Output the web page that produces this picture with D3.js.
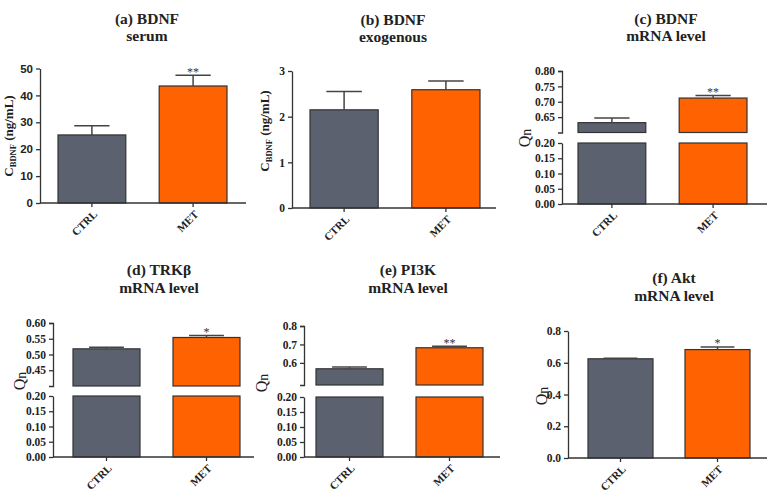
<!DOCTYPE html>
<html><head><meta charset="utf-8">
<script src="https://cdn.jsdelivr.net/npm/d3@7"></script>
<style>body{margin:0;background:#fff}</style></head>
<body>
<svg id="chart" width="773" height="501"></svg>
<script>
// ---------- data ----------
const categories = ["CTRL", "MET"];

const titleA = ["(a) BDNF", "serum"];
const meanA = [25.3, 43.5];
const semA = [3.4, 4.0];
const starsA = ["", "**"];
const ticksA = [0, 10, 20, 30, 40, 50];

const titleB = ["(b) BDNF", "exogenous"];
const meanB = [2.15, 2.59];
const semB = [0.40, 0.19];
const starsB = ["", ""];
const ticksB = [0, 1, 2, 3];

const titleC = ["(c) BDNF", "mRNA level"];
const meanC = [0.632, 0.712];
const semC = [0.015, 0.008];
const starsC = ["", "**"];
const ticksCUpper = [0.65, 0.70, 0.75, 0.80];
const ticksCLower = [0.00, 0.05, 0.10, 0.15, 0.20];

const titleD = ["(d) TRK\u03B2", "mRNA level"];
const meanD = [0.518, 0.554];
const semD = [0.005, 0.006];
const starsD = ["", "*"];
const ticksDUpper = [0.45, 0.50, 0.55, 0.60];
const ticksDLower = [0.00, 0.05, 0.10, 0.15, 0.20];

const titleE = ["(e) PI3K", "mRNA level"];
const meanE = [0.568, 0.682];
const semE = [0.009, 0.008];
const starsE = ["", "**"];
const ticksEUpper = [0.6, 0.7, 0.8];
const ticksELower = [0.00, 0.05, 0.10, 0.15, 0.20];

const titleF = ["(f) Akt", "mRNA level"];
const meanF = [0.625, 0.683];
const semF = [0.003, 0.017];
const starsF = ["", "*"];
const ticksF = [0.0, 0.2, 0.4, 0.6, 0.8];

// ---------- styles ----------
const barColors = ["#5b616f", "#ff6200"];
const SERIF = "'Liberation Serif', 'Times New Roman', serif";
const SANS = "'Liberation Sans', Arial, sans-serif";
const svg = d3.select("#chart");

function drawTitle(lines, cx, y1, y2) {
  svg.append("text").attr("x", cx).attr("y", y1).attr("text-anchor", "middle")
    .attr("font-family", SERIF).attr("font-weight", "bold").attr("font-size", 15.5).attr("fill", "#222").text(lines[0]);
  svg.append("text").attr("x", cx).attr("y", y2).attr("text-anchor", "middle")
    .attr("font-family", SERIF).attr("font-weight", "bold").attr("font-size", 15.5).attr("fill", "#222").text(lines[1]);
}

function drawYLabel(kind, x, y) {
  const t = svg.append("text").attr("transform", `translate(${x},${y}) rotate(-90)`)
    .attr("text-anchor", "middle").attr("font-family", SERIF).attr("fill", "#222");
  if (kind === "conc") {
    t.attr("font-size", 13).attr("font-weight", "bold");
    t.append("tspan").text("C");
    t.append("tspan").attr("font-size", 8.5).attr("dy", 3).text("BDNF");
    t.append("tspan").attr("dy", -3).text(" (ng/mL)");
  } else {
    t.attr("font-size", 16);
    t.append("tspan").text("Q");
    t.append("tspan").attr("font-size", 14).attr("dy", 1).text("n");
  }
}

function styleAxis(g, font) {
  g.selectAll("path,line").attr("stroke", "#333").attr("stroke-width", 1.3);
  g.selectAll("text").attr("font-family", font).attr("font-weight", "bold").attr("font-size", 11.5).attr("fill", "#222");
}

function xAxis(x, y0, axisX, endX) {
  svg.append("line").attr("x1", axisX).attr("x2", endX).attr("y1", y0).attr("y2", y0)
    .attr("stroke", "#333").attr("stroke-width", 1.3);
  const g = svg.append("g").attr("transform", `translate(0,${y0})`)
    .call(d3.axisBottom(x).tickSize(4).tickSizeOuter(0));
  g.select(".domain").remove();
  styleAxis(g, SERIF);
  g.selectAll("text").attr("y", 0).attr("dy", null).attr("x", 0)
    .attr("text-anchor", "end").attr("font-size", 11)
    .attr("transform", "translate(6,12) rotate(-45)");
}

function barsAndErrors(x, yOf, means, sems, stars, breakInfo) {
  const bw = x.bandwidth();
  categories.forEach((c, i) => {
    const v = means[i];
    if (breakInfo) {
      svg.append("rect").attr("x", x(c)).attr("width", bw)
        .attr("y", breakInfo.yU(v)).attr("height", breakInfo.yU(breakInfo.uMin) - breakInfo.yU(v))
        .attr("fill", barColors[i]).attr("stroke", "#333").attr("stroke-width", 1.2);
      svg.append("rect").attr("x", x(c)).attr("width", bw)
        .attr("y", breakInfo.yL(breakInfo.lMax)).attr("height", breakInfo.yL(0) - breakInfo.yL(breakInfo.lMax))
        .attr("fill", barColors[i]).attr("stroke", "#333").attr("stroke-width", 1.2);
    } else {
      svg.append("rect").attr("x", x(c)).attr("width", bw)
        .attr("y", yOf(v)).attr("height", yOf(0) - yOf(v))
        .attr("fill", barColors[i]).attr("stroke", "#333").attr("stroke-width", 1.2);
    }
    const ys = breakInfo ? breakInfo.yU : yOf;
    const cx = x(c) + bw / 2;
    const yTop = ys(v + sems[i]);
    svg.append("line").attr("x1", cx).attr("x2", cx).attr("y1", ys(v)).attr("y2", yTop)
      .attr("stroke", "#444").attr("stroke-width", 1.5);
    svg.append("line").attr("x1", cx - bw * 0.26).attr("x2", cx + bw * 0.26).attr("y1", yTop).attr("y2", yTop)
      .attr("stroke", "#444").attr("stroke-width", 1.5);
    if (stars[i]) {
      svg.append("text").attr("x", cx).attr("y", yTop + 0.5).attr("text-anchor", "middle")
        .attr("font-family", SERIF).attr("font-size", 12).attr("fill", "#333").text(stars[i]);
    }
  });
}

function simplePanel(o) {
  const y = d3.scaleLinear().domain([0, o.ticks[o.ticks.length - 1]]).range([o.y0, o.yTop]);
  const x = d3.scaleBand().domain(categories).range([o.barL, o.barR]).paddingInner(0.33).paddingOuter(0);
  drawTitle(o.title, o.tx, o.ty1, o.ty2);
  barsAndErrors(x, y, o.mean, o.sem, o.stars, null);
  const g = svg.append("g").attr("transform", `translate(${o.axisX},0)`)
    .call(d3.axisLeft(y).tickValues(o.ticks).tickSize(4).tickSizeOuter(0).tickFormat(o.fmt));
  styleAxis(g, o.font);
  xAxis(x, o.y0, o.axisX, o.endX);
  drawYLabel(o.ylab, o.lx, o.ly);
}

function brokenPanel(o) {
  const yU = d3.scaleLinear().domain([o.uMin, o.ticksU[o.ticksU.length - 1]]).range([o.uBot, o.uTop]);
  const yL = d3.scaleLinear().domain([0, o.ticksL[o.ticksL.length - 1]]).range([o.y0, o.lTop]);
  const x = d3.scaleBand().domain(categories).range([o.barL, o.barR]).paddingInner(0.33).paddingOuter(0);
  drawTitle(o.title, o.tx, o.ty1, o.ty2);
  barsAndErrors(x, null, o.mean, o.sem, o.stars, { yU, yL, uMin: o.uMin, lMax: o.ticksL[o.ticksL.length - 1] });
  const gU = svg.append("g").attr("transform", `translate(${o.axisX},0)`)
    .call(d3.axisLeft(yU).tickValues(o.ticksU).tickSize(4).tickSizeOuter(4).tickFormat(o.fmtU));
  styleAxis(gU, SERIF);
  const gL = svg.append("g").attr("transform", `translate(${o.axisX},0)`)
    .call(d3.axisLeft(yL).tickValues(o.ticksL).tickSize(4).tickSizeOuter(0).tickFormat(d3.format(".2f")));
  styleAxis(gL, SERIF);
  xAxis(x, o.y0, o.axisX, o.endX);
  drawYLabel("q", o.lx, o.ly);
}

simplePanel({ title: titleA, tx: 147, ty1: 24, ty2: 41, mean: meanA, sem: semA, stars: starsA, ticks: ticksA,
  fmt: d3.format("d"), font: SANS, y0: 203, yTop: 68.5, axisX: 40, endX: 246, barL: 58, barR: 227, ylab: "conc", lx: 13, ly: 136 });

simplePanel({ title: titleB, tx: 393, ty1: 25, ty2: 42, mean: meanB, sem: semB, stars: starsB, ticks: ticksB,
  fmt: d3.format("d"), font: SERIF, y0: 208, yTop: 71, axisX: 292, endX: 496, barL: 310, barR: 480, ylab: "conc", lx: 269, ly: 131 });

brokenPanel({ title: titleC, tx: 666, ty1: 24, ty2: 41, mean: meanC, sem: semC, stars: starsC,
  ticksU: ticksCUpper, ticksL: ticksCLower, uMin: 0.60, fmtU: d3.format(".2f"),
  uBot: 132.5, uTop: 71, y0: 204, lTop: 143, axisX: 562, endX: 767, barL: 578, barR: 747, lx: 530, ly: 138 });

brokenPanel({ title: titleD, tx: 159, ty1: 275, ty2: 293, mean: meanD, sem: semD, stars: starsD,
  ticksU: ticksDUpper, ticksL: ticksDLower, uMin: 0.40, fmtU: d3.format(".2f"),
  uBot: 386, uTop: 323, y0: 457, lTop: 396, axisX: 53, endX: 254, barL: 73, barR: 240, lx: 25, ly: 381 });

brokenPanel({ title: titleE, tx: 408, ty1: 275, ty2: 293, mean: meanE, sem: semE, stars: starsE,
  ticksU: ticksEUpper, ticksL: ticksELower, uMin: 0.48, fmtU: d3.format(".1f"),
  uBot: 385, uTop: 326, y0: 457, lTop: 397, axisX: 304, endX: 500, barL: 316, barR: 483, lx: 267, ly: 383 });

simplePanel({ title: titleF, tx: 674, ty1: 283, ty2: 301, mean: meanF, sem: semF, stars: starsF, ticks: ticksF,
  fmt: d3.format(".1f"), font: SERIF, y0: 458, yTop: 331, axisX: 568, endX: 767, barL: 588, barR: 750, ylab: "q", lx: 547, ly: 396 });
</script>
</body></html>
